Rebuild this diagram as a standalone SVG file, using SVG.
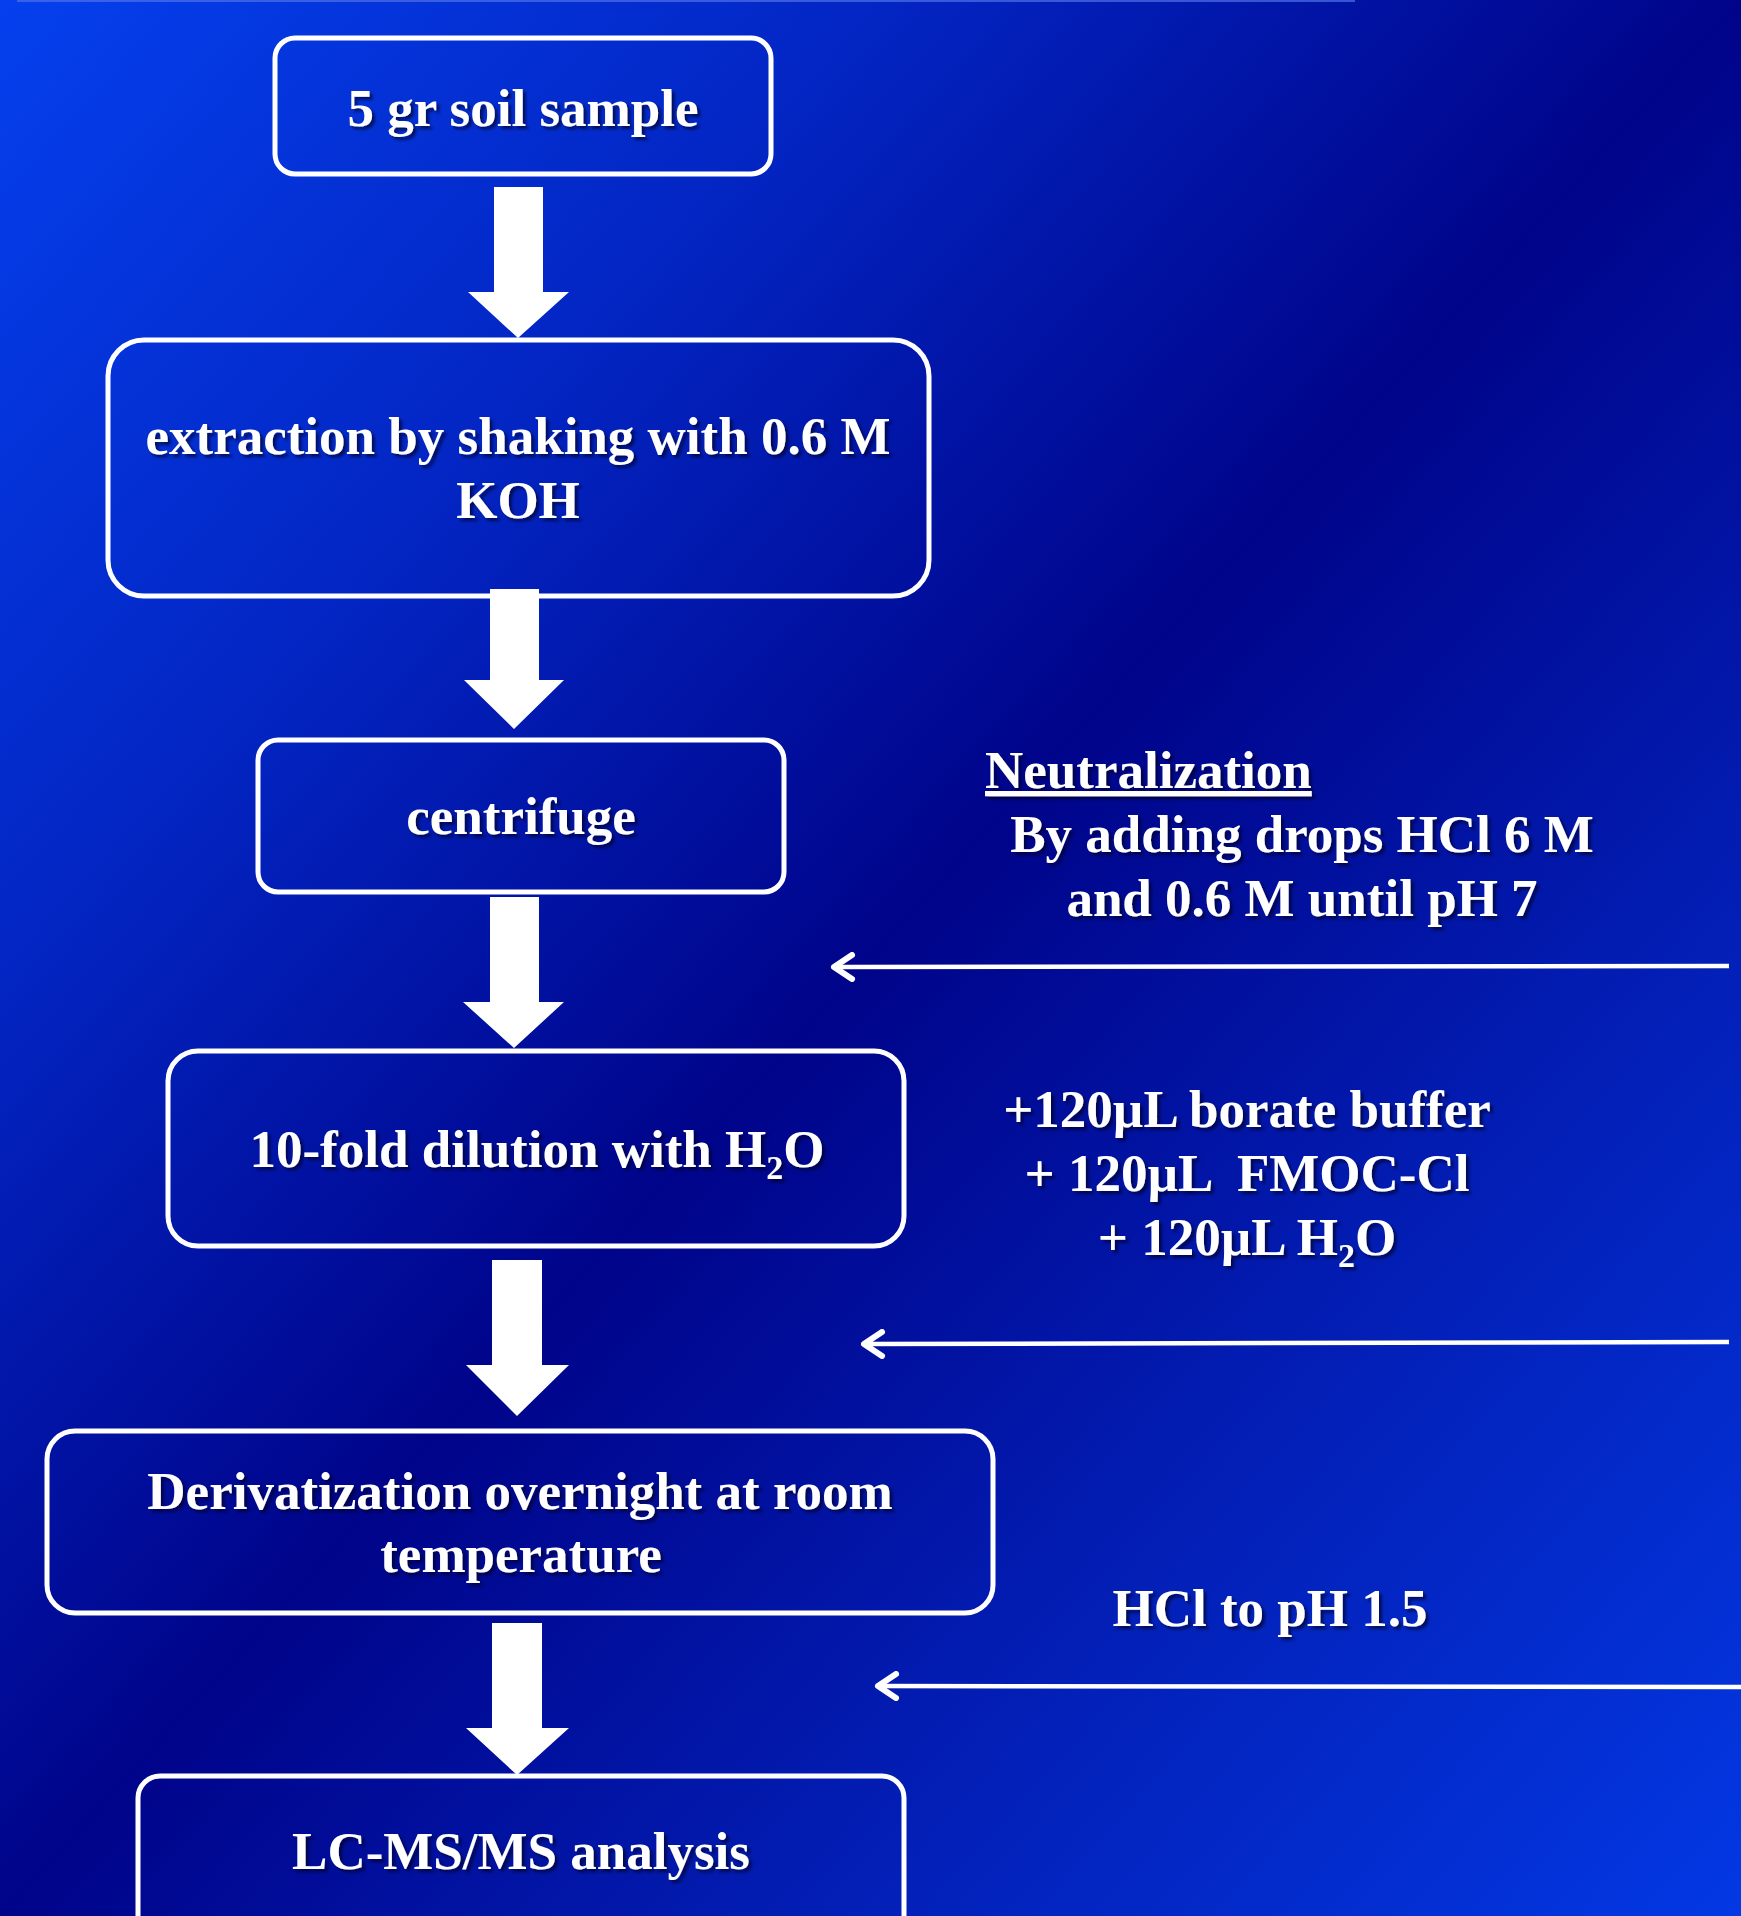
<svg xmlns="http://www.w3.org/2000/svg" width="1741" height="1916" viewBox="0 0 1741 1916">
  <defs>
    <linearGradient id="bg" x1="0" y1="0" x2="1" y2="1">
      <stop offset="0" stop-color="#0540ee"/>
      <stop offset="0.25" stop-color="#0326c4"/>
      <stop offset="0.5" stop-color="#00048a"/>
      <stop offset="0.75" stop-color="#0320b8"/>
      <stop offset="1" stop-color="#0338e4"/>
    </linearGradient>
    <filter id="shadow" x="-10%" y="-30%" width="120%" height="160%">
      <feDropShadow dx="3" dy="3" stdDeviation="1.5" flood-color="#000022" flood-opacity="0.65"/>
    </filter>
    <marker id="chev" markerUnits="userSpaceOnUse" viewBox="0 0 26 30" markerWidth="26" markerHeight="30" refX="22" refY="15" orient="auto">
      <path d="M4,3 L22,15 L4,27" fill="none" stroke="#ffffff" stroke-width="6" stroke-linecap="round" stroke-linejoin="round"/>
    </marker>
  </defs>
  <style>
    .box { fill: none; stroke: #ffffff; stroke-width: 5; }
    .lbl { font-family: "Liberation Serif", "Times New Roman", serif; font-weight: bold; font-size: 53px; fill: #ffffff; text-anchor: middle; filter: url(#shadow); }
    .side { font-family: "Liberation Serif", "Times New Roman", serif; font-weight: bold; font-size: 53px; fill: #ffffff; filter: url(#shadow); }
    .block { fill: #ffffff; }
    .thin { stroke: #ffffff; stroke-width: 4.5; fill: none; marker-end: url(#chev); }
    .sub { font-size: 34px; }
  </style>

  <rect x="0" y="0" width="1741" height="1916" fill="url(#bg)"/>
  <rect x="17" y="0" width="1338" height="2" fill="#5070e8" opacity="0.7"/>

  <g id="node-soil">
    <rect class="box" x="275" y="38" width="496" height="136" rx="20"/>
    <text class="lbl" x="523" y="126">5 gr soil sample</text>
  </g>

  <g id="node-extraction">
    <rect class="box" x="108" y="340" width="821" height="256" rx="36"/>
    <text class="lbl" x="518" y="454">extraction by shaking with 0.6 M</text>
    <text class="lbl" x="518" y="518">KOH</text>
  </g>

  <g id="node-centrifuge">
    <rect class="box" x="258" y="740" width="526" height="152" rx="20"/>
    <text class="lbl" x="521" y="834">centrifuge</text>
  </g>

  <g id="node-dilution">
    <rect class="box" x="168" y="1051" width="736" height="195" rx="30"/>
    <text class="lbl" x="537" y="1167">10-fold dilution with H<tspan class="sub" dy="12">2</tspan><tspan dy="-12">O</tspan></text>
  </g>

  <g id="node-derivatization">
    <rect class="box" x="47" y="1431" width="946" height="182" rx="28"/>
    <text class="lbl" x="520" y="1509">Derivatization overnight at room</text>
    <text class="lbl" x="521" y="1572">temperature</text>
  </g>

  <g id="node-lcms">
    <rect class="box" x="138" y="1776" width="766" height="170" rx="22"/>
    <text class="lbl" x="521" y="1869">LC-MS/MS analysis</text>
  </g>

  <g id="note-neutralization">
    <text class="side" x="985" y="788" text-decoration="underline">Neutralization</text>
    <text class="side" x="1302" y="852" text-anchor="middle">By adding drops HCl 6 M</text>
    <text class="side" x="1302" y="916" text-anchor="middle">and 0.6 M until pH 7</text>
  </g>

  <g id="note-reagents">
    <text class="side" x="1247" y="1127" text-anchor="middle">+120µL borate buffer</text>
    <text class="side" x="1247" y="1191" text-anchor="middle" xml:space="preserve">+ 120µL  FMOC-Cl</text>
    <text class="side" x="1247" y="1255" text-anchor="middle">+ 120µL H<tspan class="sub" dy="12">2</tspan><tspan dy="-12">O</tspan></text>
  </g>

  <g id="note-hcl">
    <text class="side" x="1270" y="1626" text-anchor="middle">HCl to pH 1.5</text>
  </g>

  <g id="connectors">
    <polygon class="block" points="494,187 543,187 543,292 569,292 518,338 468,292 494,292"/>
    <polygon class="block" points="490,589 539,589 539,680 564,680 514,729 464,680 490,680"/>
    <polygon class="block" points="490,897 539,897 539,1002 564,1002 514,1048 463,1002 490,1002"/>
    <polygon class="block" points="492,1260 542,1260 542,1365 569,1365 517,1416 466,1365 492,1365"/>
    <polygon class="block" points="492,1623 542,1623 542,1728 569,1728 517,1775 466,1728 492,1728"/>
    <line class="thin" x1="1729" y1="966" x2="834" y2="967"/>
    <line class="thin" x1="1729" y1="1342" x2="864" y2="1344"/>
    <line class="thin" x1="1741" y1="1687" x2="878" y2="1686"/>
  </g>
</svg>
